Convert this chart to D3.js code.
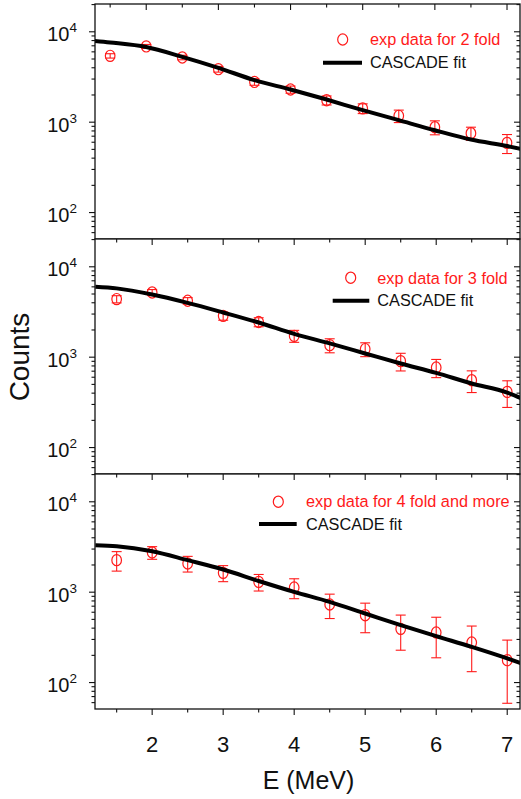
<!DOCTYPE html>
<html>
<head>
<meta charset="utf-8">
<script src="https://cdn.jsdelivr.net/npm/d3@7"></script>
<style>
  html, body { margin: 0; padding: 0; background: #fff; }
  svg { display: block; font-family: "Liberation Sans", Arial, sans-serif; }
</style>
</head>
<body>
<svg id="chart" width="521" height="799"></svg>
<script>
// ---------------- data ----------------
const energies = [1.5, 2, 2.5, 3, 3.5, 4, 4.5, 5, 5.5, 6, 6.5, 7];

const fold2Counts = [5420, 6890, 5200, 3860, 2790, 2300, 1750, 1420, 1175, 880, 755, 590];
const fold2Err    = [300, 350, 300, 280, 230, 210, 200, 175, 185, 155, 125, 140];

const fold3Counts = [4390, 5200, 4210, 2865, 2450, 1720, 1358, 1228, 904, 769, 556, 413];
const fold3Err    = [400, 400, 350, 300, 280, 260, 240, 215, 200, 175, 150, 135];

const fold4Counts = [2260, 2750, 2080, 1637, 1300, 1127, 731, 556, 393, 358, 277, 177];
const fold4Err    = [550, 440, 410, 330, 270, 280, 220, 200, 165, 170, 145, 118];

const fitEnergies = [1.2, 1.5, 2, 2.5, 3, 3.5, 4, 4.5, 5, 5.5, 6, 6.5, 7, 7.2];
const fit2 = [8050, 7620, 6780, 5280, 3990, 2920, 2300, 1780, 1358, 1052, 815, 643, 545, 505];
const fit3 = [6010, 5770, 4940, 3990, 3125, 2420, 1812, 1419, 1099, 851, 670, 512, 406, 350];
const fit4 = [3310, 3230, 2840, 2260, 1781, 1330, 1007, 781, 581, 432, 326, 248, 185, 163];

const xTickValues = [2, 3, 4, 5, 6, 7];
const xTickLabels = ["2", "3", "4", "5", "6", "7"];
const yTickValues = [100, 1000, 10000];
const yTickExponents = ["2", "3", "4"];

const legendLabels = ["exp data for 2 fold", "exp data for 3 fold", "exp data for 4 fold and more"];
const fitLabel = "CASCADE fit";
const xAxisTitle = "E (MeV)";
const yAxisTitle = "Counts";

// ---------------- layout ----------------
const svg = d3.select("#chart");
const left = 95, right = 520, panelH = 235;
const panelTops = [4, 239, 474];
const xDomains = [[1.29, 7.18], [1.195, 7.18], [1.195, 7.18]];
const yDomain = [51, 20300];
const red = "#ff1a1a";

const panels = [
  {counts: fold2Counts, err: fold2Err, fit: fit2, label: legendLabels[0],
   leg: {cx: 342.7, cy: 39.5, tx: 370, ty1: 45, lx1: 323, lx2: 362, ly: 62.7, ty2: 68.3}},
  {counts: fold3Counts, err: fold3Err, fit: fit3, label: legendLabels[1],
   leg: {cx: 350.7, cy: 277.7, tx: 377.3, ty1: 284, lx1: 332.7, lx2: 369.3, ly: 300.7, ty2: 306}},
  {counts: fold4Counts, err: fold4Err, fit: fit4, label: legendLabels[2],
   leg: {cx: 278.3, cy: 501.7, tx: 306, ty1: 507, lx1: 259, lx2: 296.7, ly: 524, ty2: 530}}
];

function minorTicks(domain) {
  const out = [];
  for (let e = 1; e <= 4; e++) {
    for (let m = 2; m <= 9; m++) {
      const v = m * Math.pow(10, e);
      if (v >= domain[0] && v <= domain[1]) out.push(v);
    }
  }
  return out;
}

panels.forEach((p, i) => {
  const top = panelTops[i], bottom = top + panelH;
  const x = d3.scaleLinear().domain(xDomains[i]).range([left, right]);
  const y = d3.scaleLog().domain(yDomain).range([bottom, top]);
  const g = svg.append("g");

  // white background (covers hidden ticks of panel above)
  g.append("rect").attr("x", left).attr("y", top).attr("width", right - left).attr("height", panelH)
    .attr("fill", "#fff");

  const clipId = "clip" + i;
  svg.append("clipPath").attr("id", clipId).append("rect")
    .attr("x", left).attr("y", top).attr("width", right - left).attr("height", panelH);

  const plot = g.append("g").attr("clip-path", `url(#${clipId})`);

  // error bars + markers
  const pts = energies.map((e, k) => ({e, c: p.counts[k], s: p.err[k]}));
  const eb = plot.append("g").attr("stroke", red).attr("stroke-width", 1.1).attr("fill", "none");
  pts.forEach(d => {
    const y1 = y(d.c + d.s), y2 = y(Math.max(d.c - d.s, 1)), xc = x(d.e);
    eb.append("line").attr("x1", xc).attr("x2", xc).attr("y1", y1).attr("y2", y2);
    eb.append("line").attr("x1", xc - 5).attr("x2", xc + 5).attr("y1", y1).attr("y2", y1);
    eb.append("line").attr("x1", xc - 5).attr("x2", xc + 5).attr("y1", y2).attr("y2", y2);
  });
  plot.append("g").selectAll("ellipse").data(pts).join("ellipse")
    .attr("cx", d => x(d.e)).attr("cy", d => y(d.c))
    .attr("rx", 4.8).attr("ry", 5.6)
    .attr("fill", "none").attr("stroke", red).attr("stroke-width", 1.2);

  // fit line
  const line = d3.line().x(d => x(d[0])).y(d => y(d[1])).curve(d3.curveMonotoneX);
  plot.append("path").datum(fitEnergies.map((e, k) => [e, p.fit[k]]))
    .attr("d", line).attr("fill", "none").attr("stroke", "#000").attr("stroke-width", 4);

  // frame
  g.append("rect").attr("x", left).attr("y", top).attr("width", right - left).attr("height", panelH)
    .attr("fill", "none").attr("stroke", "#111").attr("stroke-width", 1.3);

  // left axis ticks outward, right axis ticks inward
  const ax = g.append("g").attr("stroke", "#111").attr("stroke-width", 1.1);
  yTickValues.forEach(v => {
    ax.append("line").attr("x1", left - 6).attr("x2", left).attr("y1", y(v)).attr("y2", y(v));
    ax.append("line").attr("x1", right - 6).attr("x2", right).attr("y1", y(v)).attr("y2", y(v));
  });
  minorTicks(yDomain).forEach(v => {
    ax.append("line").attr("x1", left - 3.5).attr("x2", left).attr("y1", y(v)).attr("y2", y(v));
    ax.append("line").attr("x1", right - 3.5).attr("x2", right).attr("y1", y(v)).attr("y2", y(v));
  });

  // top ticks inward
  const xMajors = xTickValues.filter(v => v >= xDomains[i][0] && v <= xDomains[i][1]);
  const xMinors = d3.range(1.5, 7.5, 1).filter(v => v >= xDomains[i][0] && v <= xDomains[i][1]);
  xMajors.forEach(v => ax.append("line").attr("x1", x(v)).attr("x2", x(v)).attr("y1", top).attr("y2", top + 6));
  xMinors.forEach(v => ax.append("line").attr("x1", x(v)).attr("x2", x(v)).attr("y1", top).attr("y2", top + 3.5));

  // bottom ticks outward for last panel
  if (i === panels.length - 1) {
    xMajors.forEach(v => ax.append("line").attr("x1", x(v)).attr("x2", x(v)).attr("y1", bottom).attr("y2", bottom + 6));
    xMinors.forEach(v => ax.append("line").attr("x1", x(v)).attr("x2", x(v)).attr("y1", bottom).attr("y2", bottom + 3.5));
    xTickValues.forEach((v, k) => {
      g.append("text").attr("x", x(v)).attr("y", 751.5).attr("text-anchor", "middle")
        .attr("font-size", 22).attr("fill", "#111").text(xTickLabels[k]);
    });
    g.append("text").attr("x", (left + right) / 2 + 1).attr("y", 789).attr("text-anchor", "middle")
      .attr("font-size", 25).attr("fill", "#111").text(xAxisTitle);
  }

  // y tick labels
  yTickValues.forEach((v, k) => {
    const t = g.append("text").attr("x", 77).attr("y", y(v) + 9.5).attr("text-anchor", "end")
      .attr("font-size", 20).attr("fill", "#111");
    t.append("tspan").text("10");
    t.append("tspan").attr("dy", -9).attr("font-size", 13.5).text(yTickExponents[k]);
  });

  // legend
  const L = p.leg;
  g.append("ellipse").attr("cx", L.cx).attr("cy", L.cy).attr("rx", 5).attr("ry", 5.6)
    .attr("fill", "none").attr("stroke", red).attr("stroke-width", 1.2);
  g.append("text").attr("x", L.tx).attr("y", L.ty1).attr("font-size", 16.3).attr("fill", red).text(p.label);
  g.append("line").attr("x1", L.lx1).attr("x2", L.lx2).attr("y1", L.ly).attr("y2", L.ly)
    .attr("stroke", "#000").attr("stroke-width", 4);
  g.append("text").attr("x", L.tx).attr("y", L.ty2).attr("font-size", 16.3).attr("fill", "#111").text(fitLabel);
});

// y axis title
svg.append("text").attr("transform", "translate(29,357) rotate(-90)").attr("text-anchor", "middle")
  .attr("font-size", 28).attr("fill", "#111").text(yAxisTitle);
</script>
</body>
</html>
